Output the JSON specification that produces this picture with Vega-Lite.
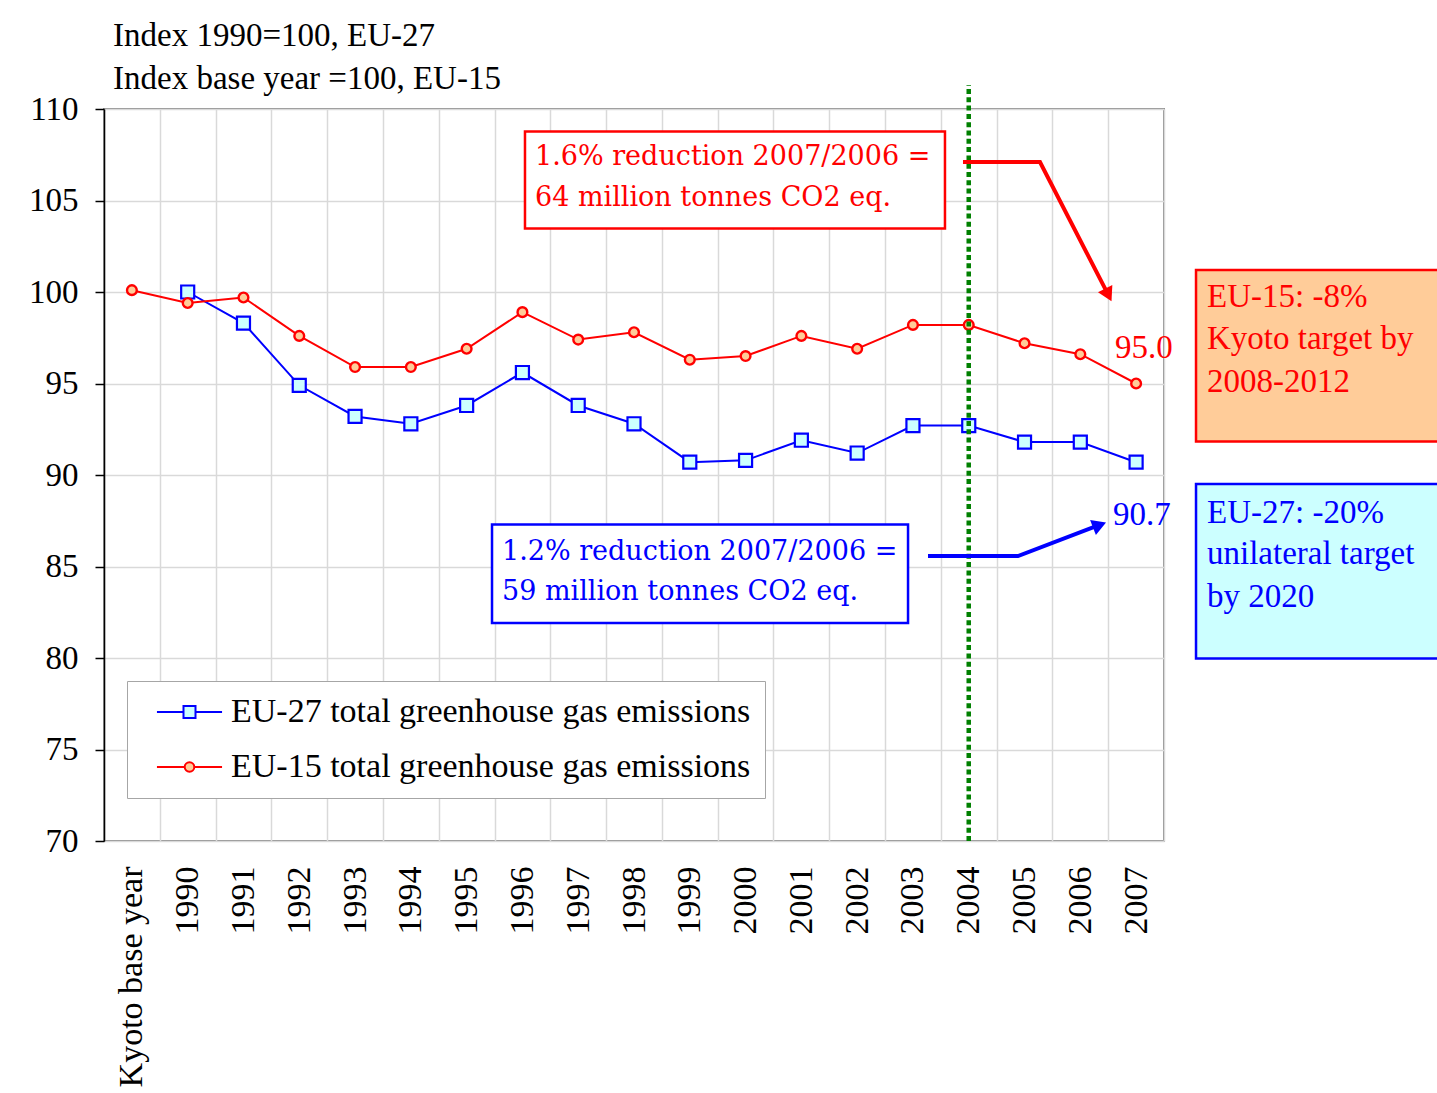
{
  "$schema": "https://vega.github.io/schema/vega-lite/v6.json",
  "width": 1060,
  "height": 732,
  "autosize": "none",
  "padding": {"left": 104, "top": 109, "right": 273, "bottom": 252},
  "background": "white",
  "title": {
    "text": ["Index 1990=100, EU-27", "Index base year =100, EU-15"],
    "anchor": "start",
    "frame": "group",
    "font": "Liberation Serif",
    "fontSize": 33,
    "fontWeight": "normal",
    "color": "black",
    "lineHeight": 43,
    "baseline": "top",
    "dx": 9,
    "offset": -13
  },
  "config": {
    "view": {"stroke": "#8C8C8C", "strokeWidth": 2},
    "font": "Liberation Serif",
    "axisY": {
      "grid": true, "gridColor": "#D9D9D9", "gridWidth": 1.5,
      "domainColor": "black", "domainWidth": 1.5,
      "tickColor": "black", "tickSize": 9, "tickWidth": 1.5,
      "labelFont": "Liberation Serif", "labelFontSize": 33, "labelColor": "black",
      "labelPadding": 17, "labelFlush": false, "labelBaseline": "middle"
    }
  },
  "datasets": {
    "emissions": [
      {"series": "EU-27 total greenhouse gas emissions", "period": "1990", "pos": 1, "value": 100.0},
      {"series": "EU-27 total greenhouse gas emissions", "period": "1991", "pos": 2, "value": 98.3},
      {"series": "EU-27 total greenhouse gas emissions", "period": "1992", "pos": 3, "value": 94.9},
      {"series": "EU-27 total greenhouse gas emissions", "period": "1993", "pos": 4, "value": 93.2},
      {"series": "EU-27 total greenhouse gas emissions", "period": "1994", "pos": 5, "value": 92.8},
      {"series": "EU-27 total greenhouse gas emissions", "period": "1995", "pos": 6, "value": 93.8},
      {"series": "EU-27 total greenhouse gas emissions", "period": "1996", "pos": 7, "value": 95.6},
      {"series": "EU-27 total greenhouse gas emissions", "period": "1997", "pos": 8, "value": 93.8},
      {"series": "EU-27 total greenhouse gas emissions", "period": "1998", "pos": 9, "value": 92.8},
      {"series": "EU-27 total greenhouse gas emissions", "period": "1999", "pos": 10, "value": 90.7},
      {"series": "EU-27 total greenhouse gas emissions", "period": "2000", "pos": 11, "value": 90.8},
      {"series": "EU-27 total greenhouse gas emissions", "period": "2001", "pos": 12, "value": 91.9},
      {"series": "EU-27 total greenhouse gas emissions", "period": "2002", "pos": 13, "value": 91.2},
      {"series": "EU-27 total greenhouse gas emissions", "period": "2003", "pos": 14, "value": 92.7},
      {"series": "EU-27 total greenhouse gas emissions", "period": "2004", "pos": 15, "value": 92.7},
      {"series": "EU-27 total greenhouse gas emissions", "period": "2005", "pos": 16, "value": 91.8},
      {"series": "EU-27 total greenhouse gas emissions", "period": "2006", "pos": 17, "value": 91.8},
      {"series": "EU-27 total greenhouse gas emissions", "period": "2007", "pos": 18, "value": 90.7},
      {"series": "EU-15 total greenhouse gas emissions", "period": "Kyoto base year", "pos": 0, "value": 100.1},
      {"series": "EU-15 total greenhouse gas emissions", "period": "1990", "pos": 1, "value": 99.4},
      {"series": "EU-15 total greenhouse gas emissions", "period": "1991", "pos": 2, "value": 99.7},
      {"series": "EU-15 total greenhouse gas emissions", "period": "1992", "pos": 3, "value": 97.6},
      {"series": "EU-15 total greenhouse gas emissions", "period": "1993", "pos": 4, "value": 95.9},
      {"series": "EU-15 total greenhouse gas emissions", "period": "1994", "pos": 5, "value": 95.9},
      {"series": "EU-15 total greenhouse gas emissions", "period": "1995", "pos": 6, "value": 96.9},
      {"series": "EU-15 total greenhouse gas emissions", "period": "1996", "pos": 7, "value": 98.9},
      {"series": "EU-15 total greenhouse gas emissions", "period": "1997", "pos": 8, "value": 97.4},
      {"series": "EU-15 total greenhouse gas emissions", "period": "1998", "pos": 9, "value": 97.8},
      {"series": "EU-15 total greenhouse gas emissions", "period": "1999", "pos": 10, "value": 96.3},
      {"series": "EU-15 total greenhouse gas emissions", "period": "2000", "pos": 11, "value": 96.5},
      {"series": "EU-15 total greenhouse gas emissions", "period": "2001", "pos": 12, "value": 97.6},
      {"series": "EU-15 total greenhouse gas emissions", "period": "2002", "pos": 13, "value": 96.9},
      {"series": "EU-15 total greenhouse gas emissions", "period": "2003", "pos": 14, "value": 98.2},
      {"series": "EU-15 total greenhouse gas emissions", "period": "2004", "pos": 15, "value": 98.2},
      {"series": "EU-15 total greenhouse gas emissions", "period": "2005", "pos": 16, "value": 97.2},
      {"series": "EU-15 total greenhouse gas emissions", "period": "2006", "pos": 17, "value": 96.6},
      {"series": "EU-15 total greenhouse gas emissions", "period": "2007", "pos": 18, "value": 95.0}
    ],
    "marker2004": [{"pos": 15, "value": 70, "value2": 111.31}],
    "redBox": [{"pos": 7.046, "pos2": 14.574, "value": 108.77, "value2": 103.47}],
    "redBoxText": [
      {"label": "1.6% reduction 2007/2006  =", "pos": 7.226, "value": 106.94},
      {"label": "64 million tonnes CO2 eq.", "pos": 7.226, "value": 104.70}
    ],
    "blueBox": [{"pos": 6.455, "pos2": 13.912, "value": 87.30, "value2": 81.91}],
    "blueBoxText": [
      {"label": "1.2% reduction 2007/2006 =", "pos": 6.634, "value": 85.36},
      {"label": "59 million tonnes CO2 eq.", "pos": 6.634, "value": 83.17}
    ],
    "redArrow": [
      {"step": 1, "pos": 14.897, "value": 107.10},
      {"step": 2, "pos": 16.277, "value": 107.10},
      {"step": 3, "pos": 17.502, "value": 99.84}
    ],
    "redArrowHead": [{"pos": 17.502, "value": 99.84}],
    "blueArrow": [
      {"step": 1, "pos": 14.270, "value": 85.57},
      {"step": 2, "pos": 15.883, "value": 85.57},
      {"step": 3, "pos": 17.344, "value": 87.27}
    ],
    "blueArrowHead": [{"pos": 17.344, "value": 87.27}],
    "redValue": [{"label": "95.0", "pos": 17.622, "value": 96.39}],
    "blueValue": [{"label": "90.7", "pos": 17.586, "value": 87.27}],
    "eu15Target": [{"pos": 19.074, "pos2": 23.6, "value": 101.20, "value2": 91.83}],
    "eu15TargetText": [
      {"label": "EU-15:  -8%", "pos": 19.271, "value": 99.20},
      {"label": "Kyoto target by", "pos": 19.271, "value": 96.89},
      {"label": "2008-2012", "pos": 19.271, "value": 94.55}
    ],
    "eu27Target": [{"pos": 19.074, "pos2": 23.6, "value": 89.51, "value2": 79.97}],
    "eu27TargetText": [
      {"label": "EU-27: -20%", "pos": 19.271, "value": 87.36},
      {"label": "unilateral target", "pos": 19.271, "value": 85.14},
      {"label": "by 2020", "pos": 19.271, "value": 82.80}
    ]
  },
  "layer": [
    {
      "data": {"name": "emissions"},
      "mark": {"type": "line", "strokeWidth": 2},
      "encoding": {
        "x": {
          "field": "pos", "type": "quantitative",
          "scale": {"domain": [-0.5, 18.5], "nice": false, "zero": false},
          "axis": {
            "orient": "top", "title": null,
            "values": [-0.5, 0.5, 1.5, 2.5, 3.5, 4.5, 5.5, 6.5, 7.5, 8.5, 9.5, 10.5, 11.5, 12.5, 13.5, 14.5, 15.5, 16.5, 17.5, 18.5],
            "grid": true, "gridColor": "#D9D9D9", "gridWidth": 1.5,
            "labels": false, "ticks": false, "domain": false
          }
        },
        "y": {
          "field": "value", "type": "quantitative", "title": null,
          "scale": {"domain": [70, 110], "nice": false, "zero": false},
          "axis": {"title": null, "values": [70, 75, 80, 85, 90, 95, 100, 105, 110]}
        },
        "stroke": {
          "field": "series", "type": "nominal",
          "scale": {
            "domain": ["EU-27 total greenhouse gas emissions", "EU-15 total greenhouse gas emissions"],
            "range": ["#0000FF", "#FF0000"]
          },
          "legend": {
            "title": null, "orient": "none", "legendX": 23, "legendY": 572,
            "direction": "vertical",
            "strokeColor": "#A6A6A6", "fillColor": "white", "padding": 14,
            "labelFont": "Liberation Serif", "labelFontSize": 34, "labelColor": "black", "labelLimit": 0,
            "symbolSize": 900, "symbolStrokeWidth": 2, "symbolOpacity": 1, "labelOffset": 56, "rowPadding": 21
          }
        }
      }
    },
    {
      "data": {"name": "emissions"},
      "transform": [{"filter": "false"}],
      "mark": {"type": "point", "opacity": 1, "strokeWidth": 2},
      "encoding": {
        "x": {"field": "pos", "type": "quantitative", "axis": null},
        "y": {"field": "value", "type": "quantitative", "title": null},
        "stroke": {"field": "series", "type": "nominal"},
        "fill": {
          "field": "series", "type": "nominal",
          "scale": {
            "domain": ["EU-27 total greenhouse gas emissions", "EU-15 total greenhouse gas emissions"],
            "range": ["#CCFFFF", "#FFCC99"]
          }
        },
        "shape": {
          "field": "series", "type": "nominal",
          "scale": {
            "domain": ["EU-27 total greenhouse gas emissions", "EU-15 total greenhouse gas emissions"],
            "range": [
              "M-0.07,0H1.7M2.5,0H4.27M1.7,-0.4H2.5V0.4H1.7Z",
              "M-0.07,0H1.78M2.42,0H4.27M1.78,0A0.32,0.32,0,1,1,2.42,0A0.32,0.32,0,1,1,1.78,0Z"
            ]
          }
        }
      }
    },
    {
      "data": {"name": "emissions"},
      "transform": [{"filter": "datum.series === 'EU-27 total greenhouse gas emissions'"}],
      "mark": {"type": "point", "shape": "square", "size": 170, "opacity": 1, "strokeWidth": 2.2},
      "encoding": {
        "x": {
          "field": "pos", "type": "quantitative",
          "axis": {
            "orient": "bottom", "title": null,
            "values": [0, 1, 2, 3, 4, 5, 6, 7, 8, 9, 10, 11, 12, 13, 14, 15, 16, 17, 18],
            "labelExpr": "['Kyoto base year','1990','1991','1992','1993','1994','1995','1996','1997','1998','1999','2000','2001','2002','2003','2004','2005','2006','2007'][datum.value]",
            "labelAngle": 270, "labelAlign": "right", "labelBaseline": "middle",
            "labelFont": "Liberation Serif", "labelFontSize": 34, "labelColor": "black",
            "labelPadding": 25, "labelOverlap": false, "labelFlush": false, "labelLimit": 0,
            "ticks": false, "domain": false, "grid": false
          }
        },
        "y": {"field": "value", "type": "quantitative", "title": null},
        "stroke": {"field": "series", "type": "nominal"},
        "fill": {"field": "series", "type": "nominal"}
      }
    },
    {
      "data": {"name": "emissions"},
      "transform": [{"filter": "datum.series === 'EU-15 total greenhouse gas emissions'"}],
      "mark": {"type": "point", "shape": "circle", "size": 95, "opacity": 1, "strokeWidth": 2.4},
      "encoding": {
        "x": {"field": "pos", "type": "quantitative", "axis": null},
        "y": {"field": "value", "type": "quantitative", "title": null},
        "stroke": {"field": "series", "type": "nominal"},
        "fill": {"field": "series", "type": "nominal"}
      }
    },
    {
      "data": {"name": "marker2004"},
      "mark": {"type": "rule", "color": "#008000", "strokeWidth": 4.5, "strokeDash": [5, 3.3]},
      "encoding": {
        "x": {"field": "pos", "type": "quantitative", "axis": null},
        "y": {"field": "value", "type": "quantitative", "title": null},
        "y2": {"field": "value2"}
      }
    },
    {
      "data": {"name": "redBox"},
      "mark": {"type": "rect", "fill": "white", "stroke": "#FF0000", "strokeWidth": 2.5},
      "encoding": {
        "x": {"field": "pos", "type": "quantitative", "axis": null},
        "x2": {"field": "pos2"},
        "y": {"field": "value", "type": "quantitative", "title": null},
        "y2": {"field": "value2"}
      }
    },
    {
      "data": {"name": "redBoxText"},
      "mark": {"type": "text", "align": "left", "baseline": "alphabetic", "font": "DejaVu Serif", "fontSize": 27, "color": "#FF0000"},
      "encoding": {
        "x": {"field": "pos", "type": "quantitative", "axis": null},
        "y": {"field": "value", "type": "quantitative", "title": null},
        "text": {"field": "label"}
      }
    },
    {
      "data": {"name": "blueBox"},
      "mark": {"type": "rect", "fill": "white", "stroke": "#0000FF", "strokeWidth": 2.5},
      "encoding": {
        "x": {"field": "pos", "type": "quantitative", "axis": null},
        "x2": {"field": "pos2"},
        "y": {"field": "value", "type": "quantitative", "title": null},
        "y2": {"field": "value2"}
      }
    },
    {
      "data": {"name": "blueBoxText"},
      "mark": {"type": "text", "align": "left", "baseline": "alphabetic", "font": "DejaVu Serif", "fontSize": 27, "color": "#0000FF"},
      "encoding": {
        "x": {"field": "pos", "type": "quantitative", "axis": null},
        "y": {"field": "value", "type": "quantitative", "title": null},
        "text": {"field": "label"}
      }
    },
    {
      "data": {"name": "redArrow"},
      "mark": {"type": "line", "color": "#FF0000", "strokeWidth": 4},
      "encoding": {
        "x": {"field": "pos", "type": "quantitative", "axis": null},
        "y": {"field": "value", "type": "quantitative", "title": null},
        "order": {"field": "step"}
      }
    },
    {
      "data": {"name": "redArrowHead"},
      "mark": {"type": "point", "shape": "triangle-up", "filled": true, "color": "#FF0000", "opacity": 1, "size": 260, "angle": 153},
      "encoding": {
        "x": {"field": "pos", "type": "quantitative", "axis": null},
        "y": {"field": "value", "type": "quantitative", "title": null}
      }
    },
    {
      "data": {"name": "blueArrow"},
      "mark": {"type": "line", "color": "#0000FF", "strokeWidth": 4},
      "encoding": {
        "x": {"field": "pos", "type": "quantitative", "axis": null},
        "y": {"field": "value", "type": "quantitative", "title": null},
        "order": {"field": "step"}
      }
    },
    {
      "data": {"name": "blueArrowHead"},
      "mark": {"type": "point", "shape": "triangle-up", "filled": true, "color": "#0000FF", "opacity": 1, "size": 260, "angle": 69},
      "encoding": {
        "x": {"field": "pos", "type": "quantitative", "axis": null},
        "y": {"field": "value", "type": "quantitative", "title": null}
      }
    },
    {
      "data": {"name": "redValue"},
      "mark": {"type": "text", "align": "left", "baseline": "alphabetic", "font": "Liberation Serif", "fontSize": 33, "color": "#FF0000"},
      "encoding": {
        "x": {"field": "pos", "type": "quantitative", "axis": null},
        "y": {"field": "value", "type": "quantitative", "title": null},
        "text": {"field": "label"}
      }
    },
    {
      "data": {"name": "blueValue"},
      "mark": {"type": "text", "align": "left", "baseline": "alphabetic", "font": "Liberation Serif", "fontSize": 33, "color": "#0000FF"},
      "encoding": {
        "x": {"field": "pos", "type": "quantitative", "axis": null},
        "y": {"field": "value", "type": "quantitative", "title": null},
        "text": {"field": "label"}
      }
    },
    {
      "data": {"name": "eu15Target"},
      "mark": {"type": "rect", "fill": "#FFCC99", "stroke": "#FF0000", "strokeWidth": 2.5},
      "encoding": {
        "x": {"field": "pos", "type": "quantitative", "axis": null},
        "x2": {"field": "pos2"},
        "y": {"field": "value", "type": "quantitative", "title": null},
        "y2": {"field": "value2"}
      }
    },
    {
      "data": {"name": "eu15TargetText"},
      "mark": {"type": "text", "align": "left", "baseline": "alphabetic", "font": "Liberation Serif", "fontSize": 33, "color": "#FF0000"},
      "encoding": {
        "x": {"field": "pos", "type": "quantitative", "axis": null},
        "y": {"field": "value", "type": "quantitative", "title": null},
        "text": {"field": "label"}
      }
    },
    {
      "data": {"name": "eu27Target"},
      "mark": {"type": "rect", "fill": "#CCFFFF", "stroke": "#0000FF", "strokeWidth": 2.5},
      "encoding": {
        "x": {"field": "pos", "type": "quantitative", "axis": null},
        "x2": {"field": "pos2"},
        "y": {"field": "value", "type": "quantitative", "title": null},
        "y2": {"field": "value2"}
      }
    },
    {
      "data": {"name": "eu27TargetText"},
      "mark": {"type": "text", "align": "left", "baseline": "alphabetic", "font": "Liberation Serif", "fontSize": 33, "color": "#0000FF"},
      "encoding": {
        "x": {"field": "pos", "type": "quantitative", "axis": null},
        "y": {"field": "value", "type": "quantitative", "title": null},
        "text": {"field": "label"}
      }
    }
  ],
  "resolve": {"axis": {"x": "independent"}}
}
